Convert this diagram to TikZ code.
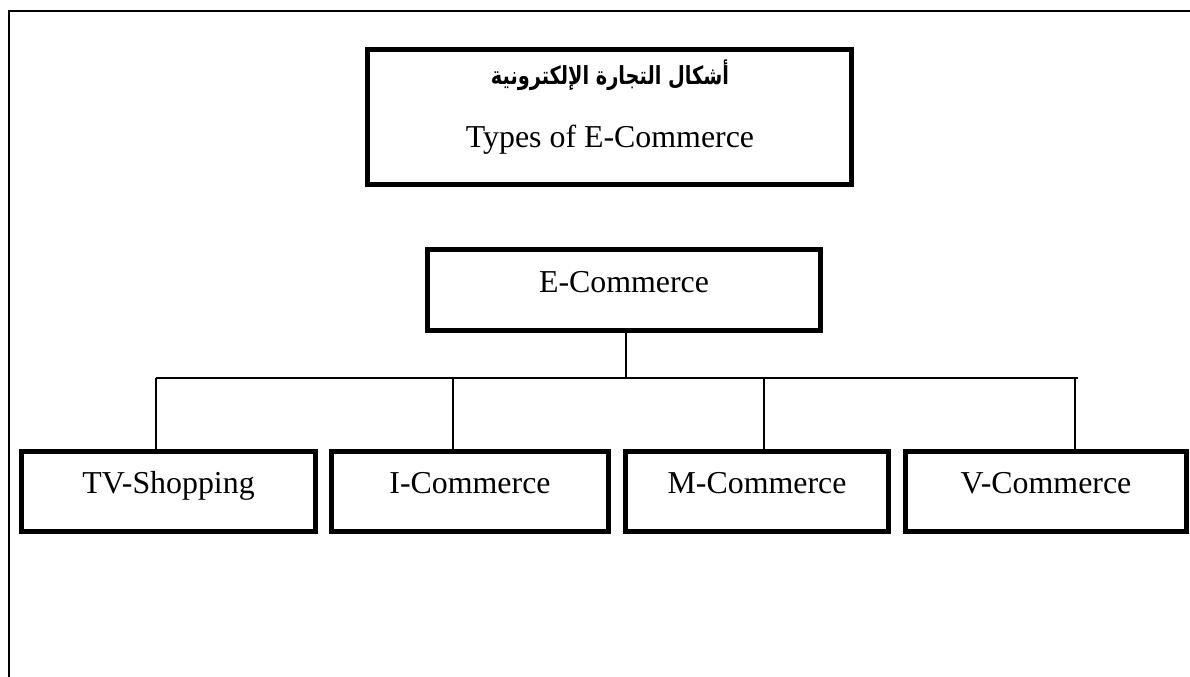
\documentclass[tikz,border=0pt]{standalone}
\usepackage{fontspec}
\setmainfont{Liberation Serif}
\newfontfamily\arabicfont[Script=Arabic]{DejaVu Sans}
\TeXXeTstate=1
\begin{document}
\begin{tikzpicture}[x=1bp,y=-1bp,
  thickbox/.style={draw=black,line width=4.7bp,inner sep=0pt,outer sep=0pt},
  label/.style={anchor=base,inner sep=0pt,font=\fontsize{32}{38}\selectfont},
  thin/.style={line width=1.5bp},
  frameline/.style={line width=2bp}]
\useasboundingbox (0,0) rectangle (1190,677);
% outer frame
\coordinate (fbl) at (9,677);
\coordinate (ftl) at (9,11);
\coordinate (ftr) at (1190,11);
\draw[frameline] (fbl) -- (ftl) -- (ftr);
% title box
\node[thickbox,minimum width=484.5bp,minimum height=135.5bp] (title) at (609.5,117) {};
\node[anchor=base,inner sep=0pt,font=\fontsize{20}{24}\selectfont] (titlear) at (610,85) {\scalebox{0.97}[1.25]{\arabicfont\bfseries\beginR أشكال التجارة الإلكترونية\endR}};
\node[label] (titleen) at (610,148) {Types of E-Commerce};
% root box
\node[thickbox,minimum width=393.5bp,minimum height=81.5bp] (root) at (624,290) {};
\node[label] (roottext) at (624,292) {E-Commerce};
% children boxes
\node[thickbox,minimum width=294.5bp,minimum height=80.5bp] (tv) at (168.5,491.5) {};
\node[label] (tvtext) at (168.5,493) {TV-Shopping};
\node[thickbox,minimum width=277.5bp,minimum height=80.5bp] (ic) at (470,491.5) {};
\node[label] (ictext) at (470,493) {I-Commerce};
\node[thickbox,minimum width=262.5bp,minimum height=80.5bp] (mc) at (757,491.5) {};
\node[label] (mctext) at (757,493) {M-Commerce};
\node[thickbox,minimum width=281.5bp,minimum height=80.5bp] (vc) at (1046,491.5) {};
\node[label] (vctext) at (1046,493) {V-Commerce};
% connectors
\coordinate (busL) at (156,378);
\coordinate (busR) at (1078,378);
\coordinate (b1) at (156,378);
\coordinate (b2) at (453,378);
\coordinate (b3) at (764,378);
\coordinate (b4) at (1075,378);
\coordinate (bc) at (626,378);
\draw[thin] (bc |- root.south) -- (bc);
\draw[thin] (busL) -- (busR);
\draw[thin] (b1) -- (b1 |- tv.north);
\draw[thin] (b2) -- (b2 |- ic.north);
\draw[thin] (b3) -- (b3 |- mc.north);
\draw[thin] (b4) -- (b4 |- vc.north);
\end{tikzpicture}
\end{document}
